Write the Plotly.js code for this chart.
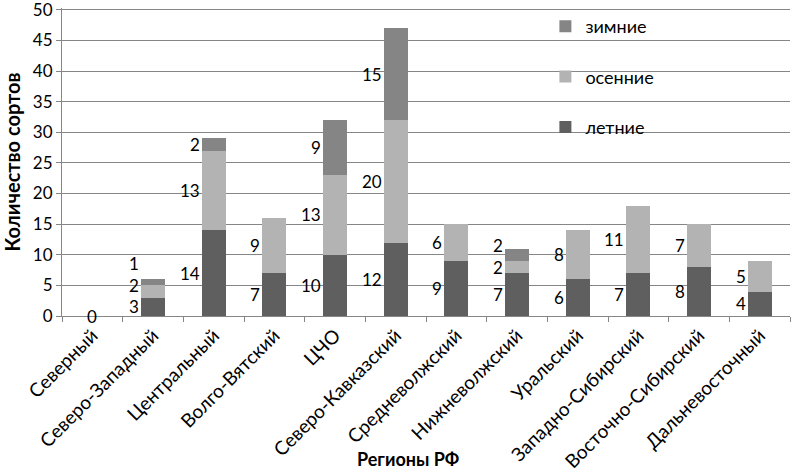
<!DOCTYPE html>
<html><head><meta charset="utf-8">
<script src="https://cdn.plot.ly/plotly-3.0.1.min.js"></script>
<style>html,body{margin:0;padding:0;background:#fff}#chart{width:792px;height:471px}</style>
</head><body><div id="chart"></div>
<script>
const regions = ["Северный","Северо-Западный","Центральный","Волго-Вятский","ЦЧО","Северо-Кавказский","Средневолжский","Нижневолжский","Уральский","Западно-Сибирский","Восточно-Сибирский","Дальневосточный"];
const summer = [0,3,14,7,10,12,9,7,6,7,8,4];
const autumn = [0,2,13,9,13,20,6,2,8,11,7,5];
const winter = [0,1,2,0,9,15,0,2,0,0,0,0];
const seriesNames = ["летние","осенние","зимние"];
const colors = ["#5f5f5f","#b3b3b3","#858585"];
const series = [summer, autumn, winter];

const font = "Lato, 'Open Sans', sans-serif";
const traces = series.map((vals,i)=>({
  type:"bar", name:seriesNames[i], x:regions, y:vals,
  marker:{color:colors[i]}, legendgroup:"g"+i, legendrank: 10-i, hoverinfo:"skip"
}));

const annotations = [];
regions.forEach((r,ci)=>{
  let base = 0, prevY = -10;
  const total = summer[ci]+autumn[ci]+winter[ci];
  series.forEach((vals,si)=>{
    const v = vals[ci];
    if (v>0 || (si===0 && total===0)) {
      let y = base + v/2;
      y = Math.max(y, prevY + 3.5);
      prevY = y;
      annotations.push({x:r, y:y, xref:"x", yref:"y", text:String(v), showarrow:false,
        xanchor: total===0 ? "center" : "right", xshift: total===0 ? 0 : -12,
        font:{family:font, size:17, color:"#000"}});
    }
    base += v;
  });
});
annotations.push({text:"Регионы РФ", xref:"paper", yref:"paper", x:0.475, y:0, yshift:-143,
  showarrow:false, xanchor:"center", yanchor:"middle", font:{family:font, size:18, color:"#000", weight:"bold"}});

const layout = {
  width:792, height:471,
  margin:{l:62, r:2, t:8, b:155},
  paper_bgcolor:"#fff", plot_bgcolor:"#fff",
  barmode:"stack", bargap:0.6,
  font:{family:font, color:"#000"},
  xaxis:{type:"category", tickangle:-45, tickfont:{family:font, size:19, color:"#000"},
    showline:true, linecolor:"#868686", linewidth:1, ticks:"outside", tickson:"boundaries",
    ticklen:5, tickcolor:"#868686", showgrid:false, automargin:false},
  yaxis:{range:[0,50.3], tickvals:[0,5,10,15,20,25,30,35,40,45,50], showgrid:true, gridcolor:"#868686", gridwidth:1,
    showline:true, linecolor:"#868686", ticks:"outside", ticklen:5, tickcolor:"#868686",
    ticklabeloverflow:"allow",
    tickfont:{family:font, size:17, color:"#000"}, zeroline:false, automargin:false,
    title:{text:"Количество сортов", font:{family:font, size:20, color:"#000", weight:"bold"}, standoff:6}},
  legend:{x:0.664, y:1.0, xanchor:"left", yanchor:"top", traceorder:"grouped",
    tracegroupgap:24, bgcolor:"rgba(0,0,0,0)", font:{family:font, size:18, color:"#000"},
    itemwidth:30},
  annotations:annotations,
  showlegend:true
};
Plotly.newPlot("chart", traces, layout, {staticPlot:true});
</script></body></html>
